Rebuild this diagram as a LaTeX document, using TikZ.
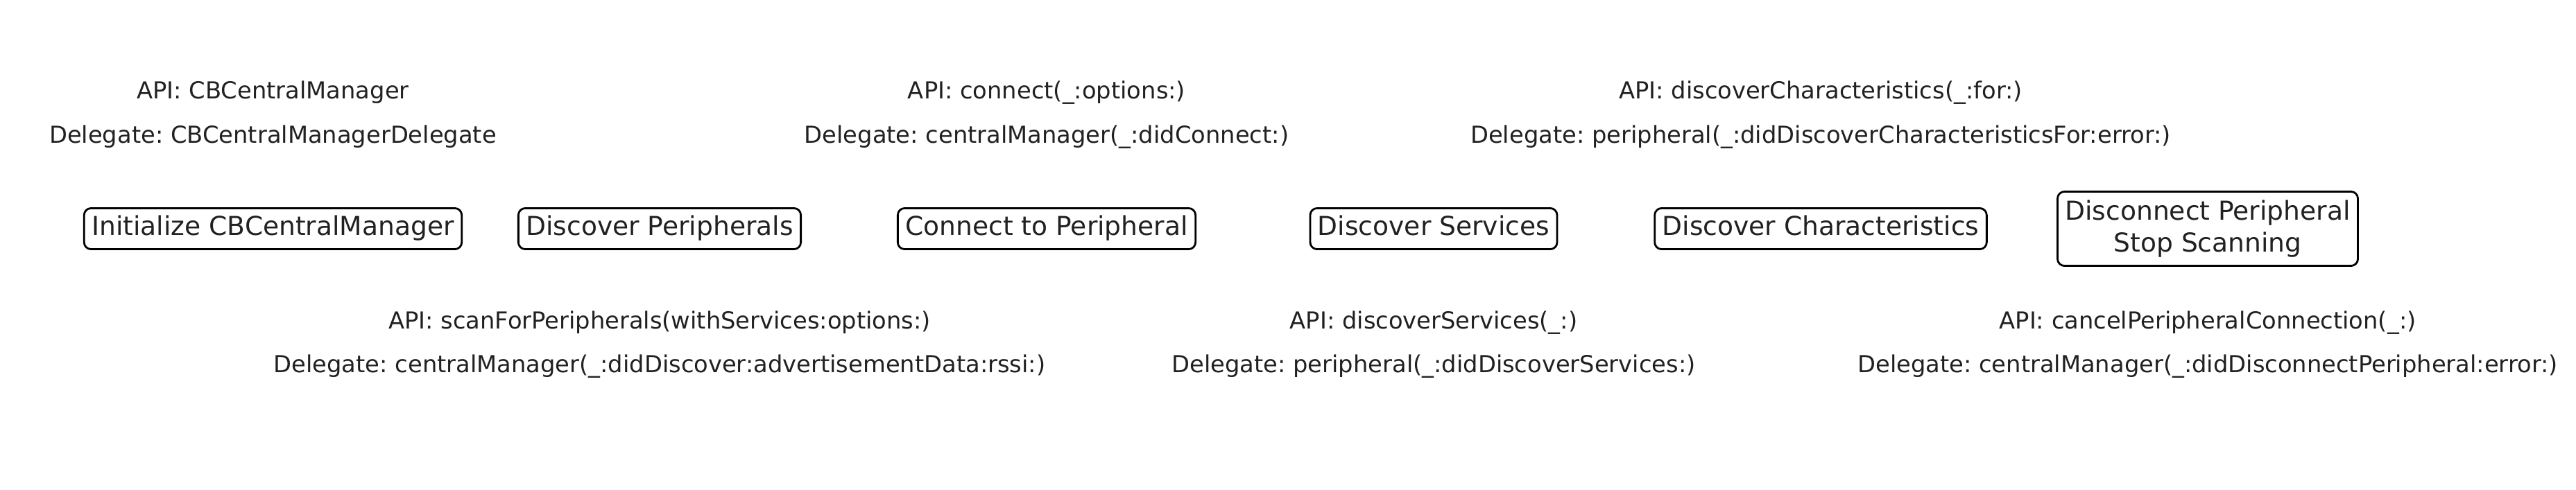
\documentclass[tikz,border=0pt]{standalone}
\usepackage{fontspec}
\setmainfont{DejaVu Sans}
\usepackage{tikz}
\frenchspacing

\begin{document}
\begin{tikzpicture}[
	stepbox/.style={draw=black,text=black!87,rounded corners=0.1cm,line width=0.8pt,font=\fontsize{10.7}{13.3}\selectfont,inner xsep=0.11cm,inner ysep=0.12cm,align=center},
	onebox/.style={stepbox,text height=0.76em,text depth=0.24em},
	apitext/.style={anchor=base,text=black!87,font=\fontsize{9.6}{11.5}\selectfont,inner sep=0pt}
	]
	\useasboundingbox (0,0) rectangle (37.14,7.06);
	
	\node[onebox] (init) at (3.935,3.76) {Initialize CBCentralManager};
	\node[apitext] (initapi) at (3.935,5.64) {API: CBCentralManager};
	\node[apitext] (initdel) at (3.935,5.00) {Delegate: CBCentralManagerDelegate};
	
	\node[onebox] (scan) at (9.51,3.76) {Discover Peripherals};
	\node[apitext] (scanapi) at (9.51,2.32) {API: scanForPeripherals(withServices:options:)};
	\node[apitext] (scandel) at (9.51,1.69) {Delegate: centralManager(\_:didDiscover:advertisementData:rssi:)};
	
	\node[onebox] (connect) at (15.09,3.76) {Connect to Peripheral};
	\node[apitext] (connectapi) at (15.09,5.64) {API: connect(\_:options:)};
	\node[apitext] (connectdel) at (15.09,5.00) {Delegate: centralManager(\_:didConnect:)};
	
	\node[onebox] (services) at (20.67,3.76) {Discover Services};
	\node[apitext] (servicesapi) at (20.67,2.32) {API: discoverServices(\_:)};
	\node[apitext] (servicesdel) at (20.67,1.69) {Delegate: peripheral(\_:didDiscoverServices:)};
	
	\node[onebox] (chars) at (26.25,3.76) {Discover Characteristics};
	\node[apitext] (charsapi) at (26.25,5.64) {API: discoverCharacteristics(\_:for:)};
	\node[apitext] (charsdel) at (26.25,5.00) {Delegate: peripheral(\_:didDiscoverCharacteristicsFor:error:)};
	
	\node[stepbox] (disconnect) at (31.83,3.76) {Disconnect Peripheral\\Stop Scanning};
	\node[apitext] (disconnectapi) at (31.83,2.32) {API: cancelPeripheralConnection(\_:)};
	\node[apitext] (disconnectdel) at (31.83,1.69) {Delegate: centralManager(\_:didDisconnectPeripheral:error:)};
	
\end{tikzpicture}
\end{document}
